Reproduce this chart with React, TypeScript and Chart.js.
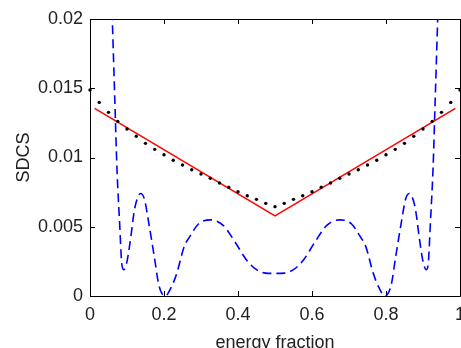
import React, { useEffect, useRef } from 'react';
import { Chart, registerables } from 'chart.js';

Chart.register(...registerables);

const FONT = '"Liberation Sans", Arial, Helvetica, sans-serif';
const TEXT = '#222222';

const xTickValues = [0, 0.2, 0.4, 0.6, 0.8, 1];
const xTickLabels = ['0', '0.2', '0.4', '0.6', '0.8', '1'];
const yTickValues = [0, 0.005, 0.01, 0.015, 0.02];
const yTickLabels = ['0', '0.005', '0.01', '0.015', '0.02'];

const xTitle = 'energy fraction';
const yTitle = 'SDCS';

// black dotted series (markers)
const dotX = [
  0, 0.025, 0.05, 0.075, 0.1, 0.125, 0.15, 0.175, 0.2, 0.225, 0.25, 0.275, 0.3, 0.325, 0.35, 0.375, 0.4,
  0.425, 0.45, 0.475, 0.5, 0.525, 0.55, 0.575, 0.6, 0.625, 0.65, 0.675, 0.7, 0.725, 0.75, 0.775, 0.8,
  0.825, 0.85, 0.875, 0.9, 0.925, 0.95, 0.975, 1,
];
const dotY = [
  0.01487, 0.01398, 0.01326, 0.01261, 0.01206, 0.01153, 0.01102, 0.01059, 0.0102, 0.0098, 0.00946,
  0.00912, 0.00881, 0.0085, 0.00816, 0.00785, 0.00753, 0.00724, 0.00698, 0.00669, 0.00645, 0.00669,
  0.00698, 0.00724, 0.00753, 0.00785, 0.00816, 0.0085, 0.00881, 0.00912, 0.00946, 0.0098, 0.0102,
  0.01059, 0.01102, 0.01153, 0.01206, 0.01261, 0.01326, 0.01398, 0.01487,
];

// red solid series
const redX = [0.0125, 0.5, 0.9875];
const redY = [0.01355, 0.00578, 0.01355];

// blue dashed series
const blueX = [
  0.055, 0.0603, 0.067, 0.073, 0.08, 0.0856, 0.091, 0.1, 0.11, 0.12, 0.13, 0.137, 0.147, 0.158, 0.174,
  0.186, 0.203, 0.219, 0.234, 0.255, 0.27, 0.293, 0.325, 0.36, 0.392, 0.423, 0.45, 0.475, 0.5, 0.525,
  0.55, 0.577, 0.608, 0.64, 0.675, 0.707, 0.73, 0.745, 0.766, 0.781, 0.797, 0.814, 0.826, 0.842, 0.853,
  0.863, 0.87, 0.88, 0.89, 0.9, 0.909, 0.9144, 0.92, 0.927, 0.933, 0.9397, 0.945,
];
const blueY = [
  0.0246, 0.02, 0.0142, 0.0091, 0.0053, 0.0024, 0.0019, 0.0025, 0.0042, 0.0062, 0.0072, 0.0074, 0.007,
  0.0054, 0.0028, 0.0008, 0.0, 0.0006, 0.0016, 0.0036, 0.0043, 0.0052, 0.0055, 0.0051, 0.0039, 0.0026,
  0.0019, 0.00165, 0.00163, 0.00165, 0.0019, 0.0026, 0.0039, 0.0051, 0.0055, 0.0052, 0.0043, 0.0036,
  0.0016, 0.0006, 0.0, 0.0008, 0.0028, 0.0054, 0.007, 0.0074, 0.0072, 0.0062, 0.0042, 0.0025, 0.0019,
  0.0024, 0.0053, 0.0091, 0.0142, 0.02, 0.0246,
];

const pts = (xs: number[], ys: number[]) => xs.map((x, i) => ({ x, y: ys[i] }));

const frame = {
  id: 'matlabFrame',
  beforeDatasetsDraw(chart: any) {
    const { ctx, chartArea: a, scales } = chart;
    ctx.save();
    ctx.strokeStyle = '#000';
    ctx.lineWidth = 1;
    ctx.beginPath();
    ctx.rect(Math.round(a.left) + 0.5, Math.round(a.top) + 0.5, Math.round(a.right - a.left), Math.round(a.bottom - a.top));
    ctx.stroke();
    const tl = 5;
    ctx.beginPath();
    xTickValues.forEach((v) => {
      const px = Math.round(scales.x.getPixelForValue(v)) + 0.5;
      ctx.moveTo(px, a.bottom);
      ctx.lineTo(px, a.bottom - tl);
      ctx.moveTo(px, a.top);
      ctx.lineTo(px, a.top + tl);
    });
    yTickValues.forEach((v) => {
      const py = Math.round(scales.y.getPixelForValue(v)) + 0.5;
      ctx.moveTo(a.left, py);
      ctx.lineTo(a.left + tl, py);
      ctx.moveTo(a.right, py);
      ctx.lineTo(a.right - tl, py);
    });
    ctx.stroke();
    ctx.restore();
  },
};

export default function App() {
  const ref = useRef<HTMLCanvasElement>(null);

  useEffect(() => {
    const canvas = ref.current;
    if (!canvas) return;
    const chart = new Chart(canvas, {
      type: 'scatter',
      data: {
        datasets: [
          {
            data: pts(dotX, dotY),
            showLine: false,
            pointRadius: 1.7,
            pointBorderWidth: 0,
            pointBackgroundColor: '#000',
            borderColor: '#000',
            clip: 6,
          },
          {
            data: pts(redX, redY),
            showLine: true,
            borderColor: '#ff0000',
            borderWidth: 1.5,
            pointRadius: 0,
            tension: 0,
          },
          {
            data: pts(blueX, blueY),
            showLine: true,
            borderColor: '#0000ff',
            borderWidth: 1.6,
            borderDash: [9, 5],
            pointRadius: 0,
            cubicInterpolationMode: 'monotone',
          },
        ],
      },
      options: {
        responsive: false,
        animation: false,
        devicePixelRatio: 1,
        layout: { padding: { left: 0, top: 19, right: 10, bottom: 0 } },
        plugins: { legend: { display: false }, tooltip: { enabled: false } },
        scales: {
          x: {
            type: 'linear',
            min: 0,
            max: 1,
            grid: { display: false, drawTicks: false },
            border: { display: false },
            afterBuildTicks: (s: any) => {
              s.ticks = xTickValues.map((v) => ({ value: v }));
            },
            afterFit: (s: any) => {
              s.height = 64;
              s.paddingLeft = 0;
              s.paddingRight = 0;
            },
            ticks: {
              padding: 8,
              color: TEXT,
              maxRotation: 0,
              autoSkip: false,
              font: { family: FONT, size: 18 },
              callback: (v: any) => {
                const i = xTickValues.indexOf(Number(v));
                return i >= 0 ? xTickLabels[i] : '';
              },
            },
            title: {
              display: true,
              text: xTitle,
              color: TEXT,
              font: { family: FONT, size: 18 },
              padding: { top: 0, bottom: 6 },
            },
          },
          y: {
            type: 'linear',
            min: 0,
            max: 0.02,
            grid: { display: false, drawTicks: false },
            border: { display: false },
            afterBuildTicks: (s: any) => {
              s.ticks = yTickValues.map((v) => ({ value: v }));
            },
            afterFit: (s: any) => {
              s.width = 90;
              s.paddingTop = 0;
              s.paddingBottom = 0;
            },
            ticks: {
              padding: 7,
              color: TEXT,
              autoSkip: false,
              font: { family: FONT, size: 18 },
              callback: (v: any) => {
                const i = yTickValues.indexOf(Number(v));
                return i >= 0 ? yTickLabels[i] : '';
              },
            },
            title: {
              display: true,
              text: yTitle,
              color: TEXT,
              font: { family: FONT, size: 18 },
              padding: { top: 13, bottom: 0 },
            },
          },
        },
      },
      plugins: [frame],
    } as any);
    return () => chart.destroy();
  }, []);

  return (
    <div style={{ position: 'fixed', left: 0, top: 0, width: 470, height: 360, overflow: 'hidden' }}>
      <canvas ref={ref} width={470} height={360} style={{ display: 'block', width: 470, height: 360 }} />
    </div>
  );
}
